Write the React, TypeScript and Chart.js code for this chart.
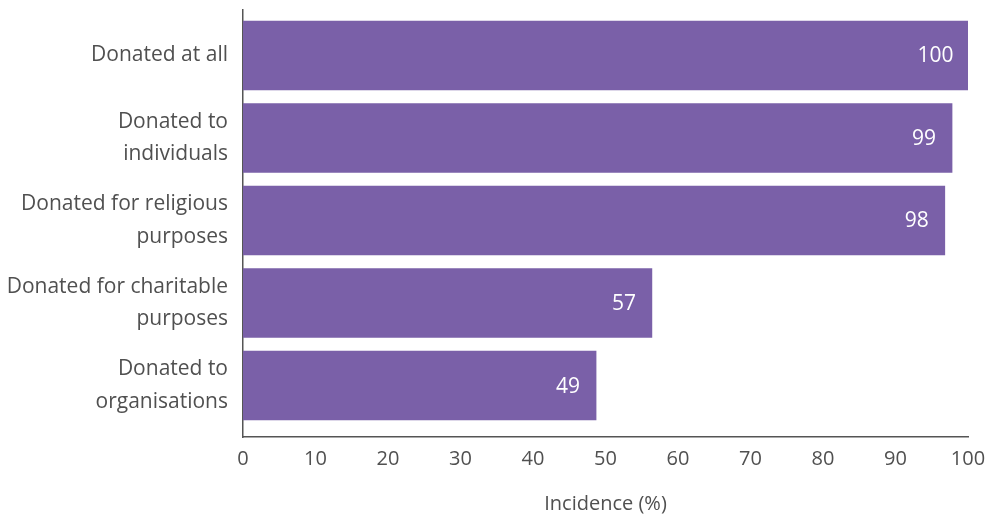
import React, { useEffect, useRef } from "react";
import { Chart, registerables } from "chart.js";

Chart.register(...registerables);

const categories: string[][] = [
  ["Donated at all"],
  ["Donated to", "individuals"],
  ["Donated for religious", "purposes"],
  ["Donated for charitable", "purposes"],
  ["Donated to", "organisations"],
];
const barValues: number[] = [100.2, 97.8, 96.8, 56.4, 48.7];
const valueLabels: string[] = ["100", "99", "98", "57", "49"];
const xTicks: number[] = [0, 10, 20, 30, 40, 50, 60, 70, 80, 90, 100];
const xTitle = "Incidence (%)";

const FONT = "'Open Sans', sans-serif";
const TEXT = "#505050";
const AXIS = "#555555";
const BAR = "#7A60A8";

const valueLabelPlugin = {
  id: "valueLabels",
  afterDatasetsDraw(chart: any) {
    const ctx = chart.ctx;
    const meta = chart.getDatasetMeta(0);
    ctx.save();
    ctx.font = `21px ${FONT}`;
    ctx.fillStyle = "#ffffff";
    ctx.textAlign = "right";
    ctx.textBaseline = "middle";
    meta.data.forEach((el: any, i: number) => {
      ctx.fillText(valueLabels[i], el.x - 16, el.y + 1);
    });
    ctx.restore();
  },
};

export default function App() {
  const ref = useRef<HTMLCanvasElement>(null);
  useEffect(() => {
    if (!ref.current) return;
    const chart = new Chart(ref.current, {
      type: "bar",
      data: {
        datasets: [
          {
            data: barValues.map((v, i) => ({ x: v, y: i })),
            backgroundColor: BAR,
            barThickness: 69,
            borderWidth: 0,
          },
        ],
      },
      options: {
        indexAxis: "y",
        animation: false,
        responsive: false,
        maintainAspectRatio: false,
        layout: { padding: { top: 10, right: 26, left: 0, bottom: 0 } },
        plugins: {
          legend: { display: false },
          tooltip: { enabled: false },
        },
        scales: {
          x: {
            type: "linear",
            min: 0,
            max: 100,
            afterBuildTicks: (s: any) => {
              s.ticks = xTicks.map((v) => ({ value: v }));
            },
            grid: { display: false, drawTicks: false },
            border: { display: true, color: AXIS, width: 1.5 },
            ticks: {
              color: TEXT,
              font: { family: FONT, size: 20 },
              padding: 10,
              maxRotation: 0,
              autoSkip: false,
            },
            title: {
              display: true,
              text: xTitle,
              color: TEXT,
              font: { family: FONT, size: 20 },
              padding: { top: 18, bottom: 0 },
            },
            afterFit: (s: any) => {
              s.height = 79;
              s.paddingLeft = 0;
              s.paddingRight = 0;
            },
          },
          y: {
            type: "linear",
            reverse: true,
            offset: false,
            bounds: "data",
            min: -0.5515,
            max: 4.624,
            afterBuildTicks: (s: any) => {
              s.ticks = categories.map((_, i) => ({ value: i }));
              s.min = -0.5515;
              s.max = 4.624;
            },
            grid: { display: false, drawTicks: false, offset: false },
            border: { display: true, color: AXIS, width: 1.5 },
            ticks: {
              color: TEXT,
              font: { family: FONT, size: 21, lineHeight: 1.55 },
              padding: 15,
              autoSkip: false,
              callback: (v: any) => categories[v as number] ?? "",
            },
            afterFit: (s: any) => {
              s.width = 243;
              s.paddingTop = 0;
              s.paddingBottom = 0;
            },
          },
        },
      },
      plugins: [valueLabelPlugin],
    });
    return () => chart.destroy();
  }, []);
  return (
    <div style={{ position: "fixed", left: 0, top: 0, width: 994, height: 516, background: "#fff" }}>
      <canvas ref={ref} width={994} height={516} style={{ display: "block" }} />
    </div>
  );
}
